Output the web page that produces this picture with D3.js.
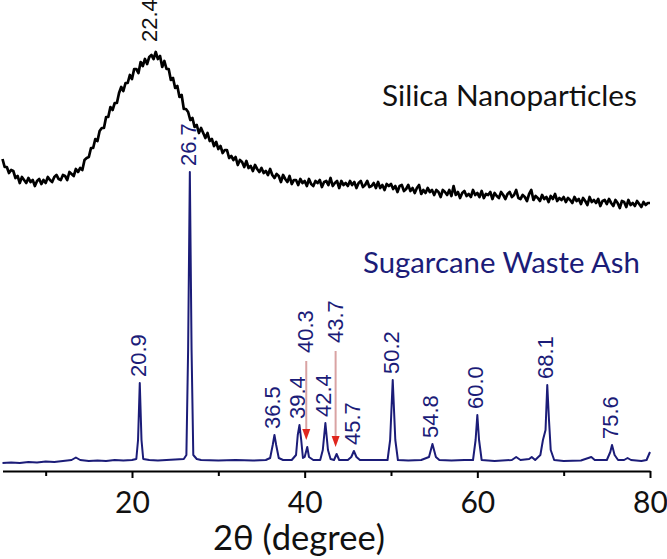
<!DOCTYPE html>
<html><head><meta charset="utf-8">
<script src="https://cdn.jsdelivr.net/npm/d3@7"></script>
<style>html,body{margin:0;padding:0;background:#fff;overflow:hidden}</style>
</head><body>
<svg id="c" width="667" height="559"></svg>
<script>
// ---- DATA ----
// Silica nanoparticles (black), 2θ from 5° in steps of 0.25°, intensity in a.u.
const silicaStart = 5, silicaStep = 0.25;
const silicaIntensity = [
312,304,304,298,301,300,293,295,288,294,291,288,293,289,291,285,290,292,287,291,
288,294,291,289,294,296,292,291,296,295,291,299,297,295,302,299,303,301,311,313,
314,323,323,332,330,340,343,343,354,354,364,361,368,368,378,384,380,388,388,396,
392,402,402,398,409,405,412,407,414,416,412,419,412,415,404,410,402,402,391,393,
383,385,374,376,362,362,359,351,353,344,346,338,343,338,333,338,330,332,325,329,
322,325,318,321,321,313,315,311,314,306,311,309,304,310,303,305,300,306,302,299,
303,298,300,296,302,296,293,297,295,289,296,292,289,295,287,291,291,286,292,288,
290,285,292,287,285,290,288,291,284,289,290,286,293,285,288,290,283,290,286,288,
285,290,286,289,283,288,290,284,286,290,284,285,288,283,289,283,286,281,287,285,
287,282,285,279,285,286,280,282,286,280,283,278,283,286,277,281,278,283,279,281,
276,281,279,274,281,279,276,281,275,285,276,279,273,278,280,275,277,274,281,276,
278,274,280,273,277,276,279,272,278,275,273,279,276,272,277,279,274,276,281,273,
272,276,274,270,277,281,271,275,273,270,276,272,274,269,275,272,277,270,273,271,
274,269,273,271,268,274,270,272,267,273,270,266,274,269,271,268,272,265,270,271,
267,272,268,265,271,268,263,270,269,264,271,266,268,265,270,267,264,269,266,268,
268
];
// Sugarcane waste ash (blue)
const ashAngle = [5,6,7,8,9,10,11,12,13,13.5,14,15,16,17,18,19,20,20.5,20.7,20.9,21.1,21.3,22,23,24,25,26,26.3,26.5,26.7,26.9,27.1,27.5,28,30,32,34,35.5,36,36.3,36.5,36.7,37,37.5,38.5,39,39.2,39.4,39.6,39.8,40,40.3,40.5,41,41.8,42.1,42.4,42.7,43,43.4,43.7,44,45,45.4,45.7,46,46.4,47.5,48.5,49.6,49.9,50.2,50.5,50.8,52,53.5,54.4,54.8,55.2,55.6,57,58.5,59.5,59.8,60,60.2,60.5,62,64,64.5,65,66,66.3,66.7,67.3,67.6,67.9,68.1,68.3,68.5,68.9,70,72,73.2,73.6,75,75.4,75.6,75.9,76.3,77,77.4,77.8,79,79.6,80];
const ashIntensity = [8,8.5,8,9,8.5,9.5,9,10,11,13.5,11,10,10.5,10,11,10.5,11,12,31,88,31,12,11,10.5,11,11.5,12,16,121,299,121,16,12,11,10.5,11,10.5,11,13,26,36,26,13,11,11,16,36,46,31,13,14,24,14,11,11,21,48,21,12,11,17,11,11,14,20,14,11,11,11,11,31,91,31,11,10.5,11,14,27,14,11,10.5,11,11,31,56,31,11,10,11,14,11,12,14,11,16,31,41,86,51,21,11,10,10.5,14,11,11,19,26,16,11,11,13,11,10,11,19];
// Peak annotations
const ashPeakLabels = ["20.9","26.7","36.5","39.4","40.3","42.4","43.7","45.7","50.2","54.8","60.0","68.1","75.6"];
const ashPeakAngles = [20.9,26.7,36.5,39.4,40.3,42.4,43.7,45.7,50.2,54.8,60.0,68.1,75.6];
const silicaPeakLabels = ["22.4"];
const silicaPeakAngles = [22.4];
const xTickValues = [20,40,60,80];
const xMinorTicks = [10,30,50,70];
const xTitle = "2θ (degree)";
const seriesNames = ["Silica Nanoparticles","Sugarcane Waste Ash"];

// ---- LAYOUT ----
const svg = d3.select("#c");
const x = d3.scaleLinear().domain([5,80]).range([2.5,650]);
const y = d3.scaleLinear().domain([0,470]).range([471,1]);
const navy = "#1b1c78";

const silica = silicaIntensity.map((v,i)=>({a: silicaStart + i*silicaStep, v}));
const ash = ashAngle.map((a,i)=>({a, v: ashIntensity[i]}));
const line = d3.line().x(d=>x(d.a)).y(d=>y(d.v));

svg.append("path").datum(silica).attr("d",line).attr("fill","none")
  .attr("stroke","#000").attr("stroke-width",2.7).attr("stroke-linejoin","round");
svg.append("path").datum(ash).attr("d",line).attr("fill","none")
  .attr("stroke",navy).attr("stroke-width",2).attr("stroke-linejoin","round");

// axis
const ax = svg.append("g").attr("transform","translate(0,471)")
  .call(d3.axisBottom(x).tickValues(xTickValues).tickSize(7).tickSizeOuter(0).tickPadding(14).tickFormat(d3.format("d")));
ax.select(".domain").attr("stroke","#000").attr("stroke-width",2);
ax.selectAll(".tick line").attr("stroke","#000").attr("stroke-width",2);
ax.selectAll(".tick text").attr("font-family","Lato, 'Open Sans', sans-serif").attr("font-size",30).attr("fill","#111");
const axm = svg.append("g").attr("transform","translate(0,471)")
  .call(d3.axisBottom(x).tickValues(xMinorTicks).tickSize(5).tickFormat(""));
axm.select(".domain").remove();
axm.selectAll(".tick line").attr("stroke","#000").attr("stroke-width",2);

function fit(sel, w){
  const cur = sel.node().getComputedTextLength();
  const fs = parseFloat(sel.attr("font-size"));
  sel.attr("font-size", fs*w/cur);
}
const t = svg.append("text").attr("x",213).attr("y",550).attr("font-family","Lato, 'Open Sans', sans-serif")
  .attr("font-size",30).attr("fill","#111").text(xTitle);
fit(t,172);

const s1 = svg.append("text").attr("x",382).attr("y",106).attr("font-family","Lato, 'Open Sans', sans-serif")
  .attr("font-size",28).attr("fill","#111").text(seriesNames[0]);
fit(s1,255);
const s2 = svg.append("text").attr("x",363).attr("y",273).attr("font-family","Lato, 'Open Sans', sans-serif")
  .attr("font-size",26).attr("fill",navy).text(seriesNames[1]);
fit(s2,277);

// peak labels
const lift = {"40.3": 94, "43.7": 111};
function peakVal(arr, a){
  let m = -Infinity; arr.forEach(d=>{ if(Math.abs(d.a-a)<=0.35 && d.v>m) m=d.v; }); return m;
}
ashPeakLabels.forEach((lab,i)=>{
  const a = ashPeakAngles[i];
  const py = y(peakVal(ash,a));
  const px = x(a);
  const ly = lift[lab] ? py - lift[lab] : py - 6;
  svg.append("text").attr("transform",`translate(${px-2},${ly}) rotate(-90)`)
    .attr("dy","0.36em").attr("font-family","'Liberation Sans', Arial, sans-serif")
    .attr("font-size",22).attr("fill",navy).text(lab);
  if(lift[lab]){
    const y0 = ly + 8, y1 = py - 7;
    svg.append("line").attr("x1",px-1).attr("x2",px-1).attr("y1",y0).attr("y2",y1-10)
      .attr("stroke","#d9a3a3").attr("stroke-width",2);
    svg.append("path").attr("d",`M${px-5},${y1-11}L${px+3},${y1-11}L${px-1},${y1}Z`).attr("fill","#e0261e");
  }
});
silicaPeakLabels.forEach((lab,i)=>{
  const a = silicaPeakAngles[i];
  const py = y(peakVal(silica,a+0.1));
  svg.append("text").attr("transform",`translate(${x(a)-4},${py-10}) rotate(-90)`)
    .attr("dy","0.36em").attr("font-family","'Liberation Sans', Arial, sans-serif")
    .attr("font-size",22).attr("fill","#111").text(lab);
});
</script>
</body></html>
